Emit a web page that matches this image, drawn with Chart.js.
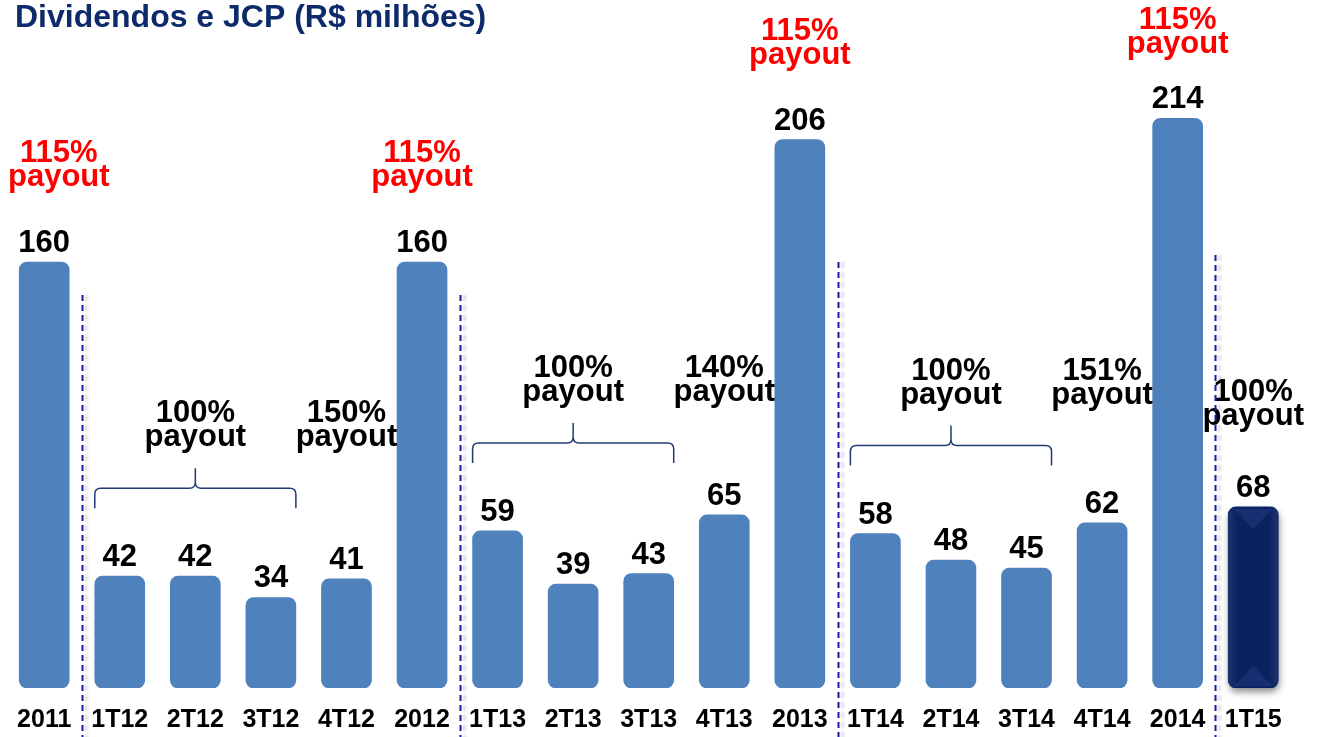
<!DOCTYPE html>
<html>
<head>
<meta charset="utf-8">
<script src="https://cdn.jsdelivr.net/npm/chart.js@4.4.1/dist/chart.umd.min.js"></script>
<style>
  html, body { margin: 0; padding: 0; background: #fff; overflow: hidden; }
  #wrap { position: relative; width: 1317px; height: 752px; }
</style>
</head>
<body>
<div id="wrap"><canvas id="graph"></canvas></div>
<script>
const categories = ['2011', '1T12', '2T12', '3T12', '4T12', '2012', '1T13', '2T13', '3T13', '4T13', '2013', '1T14', '2T14', '3T14', '4T14', '2014', '1T15'];
const dividends = [160, 42, 42, 34, 41, 160, 59, 39, 43, 65, 206, 58, 48, 45, 62, 214, 68];
const annualPayouts = [['2011', '115%'], ['2012', '115%'], ['2013', '115%'], ['2014', '115%']];
const groupPayouts = [['1T12', '3T12', '100%'], ['1T13', '3T13', '100%'], ['1T14', '3T14', '100%']];
const quarterPayouts = [['4T12', '150%'], ['4T13', '140%'], ['4T14', '151%'], ['1T15', '100%']];
const separatorsAfter = ['2011', '2012', '2013', '2014'];
const title = 'Dividendos e JCP (R$ milhões)';

const FONT = "'Liberation Sans', Arial, sans-serif";
const lastIdx = categories.length - 1;

const barColors = categories.map((c, i) => i === lastIdx ? '#0b2261' : '#4f81bd');

function drawBrace(ctx, x1, x2, bottom) {
  const mid = (x1 + x2) / 2, hy = bottom - 20, tip = bottom - 40, r = 6;
  ctx.beginPath();
  ctx.moveTo(x1, bottom);
  ctx.lineTo(x1, hy + r);
  ctx.quadraticCurveTo(x1, hy, x1 + r, hy);
  ctx.lineTo(mid - r, hy);
  ctx.quadraticCurveTo(mid, hy, mid, hy - r);
  ctx.lineTo(mid, tip);
  ctx.moveTo(mid, hy - r);
  ctx.quadraticCurveTo(mid, hy, mid + r, hy);
  ctx.lineTo(x2 - r, hy);
  ctx.quadraticCurveTo(x2, hy, x2, hy + r);
  ctx.lineTo(x2, bottom);
  ctx.stroke();
}

function payoutText(ctx, x, baseline, pct, color) {
  ctx.fillStyle = color;
  ctx.font = 'bold 31px ' + FONT;
  ctx.textBaseline = 'alphabetic';
  // keep the label inside the canvas
  const half = ctx.measureText('payout').width / 2;
  x = Math.max(x, half + 8);
  baseline = Math.max(baseline, 53);
  ctx.textAlign = 'center';
  ctx.fillText(pct, x, baseline - 24);
  ctx.fillText('payout', x, baseline);
}

const annotations = {
  id: 'annotations',
  beforeDatasetsDraw(chart) {
    // soft shadow under the last (highlighted) bar
    const ctx = chart.ctx;
    const bar = chart.getDatasetMeta(0).data[lastIdx];
    ctx.save();
    ctx.shadowColor = 'rgba(0,0,0,0.45)';
    ctx.shadowBlur = 7;
    ctx.shadowOffsetX = 1;
    ctx.shadowOffsetY = 4;
    ctx.fillStyle = '#0b2261';
    ctx.beginPath();
    ctx.roundRect(bar.x - bar.width / 2, bar.y, bar.width, bar.base - bar.y, 8);
    ctx.fill();
    ctx.restore();
  },
  afterDatasetsDraw(chart) {
    const ctx = chart.ctx;
    const xs = chart.scales.x;
    const bars = chart.getDatasetMeta(0).data;
    const idx = c => categories.indexOf(c);
    ctx.save();

    // subtle bevel on the last bar
    const lb = bars[lastIdx];
    const l = lb.x - lb.width / 2, r = lb.x + lb.width / 2;
    const g = ctx.createLinearGradient(l, 0, r, 0);
    g.addColorStop(0, 'rgba(255,255,255,0.08)');
    g.addColorStop(0.2, 'rgba(255,255,255,0)');
    g.addColorStop(0.8, 'rgba(255,255,255,0)');
    g.addColorStop(1, 'rgba(255,255,255,0.08)');
    ctx.fillStyle = g;
    ctx.beginPath();
    ctx.roundRect(l, lb.y, lb.width, lb.base - lb.y, 8);
    ctx.fill();
    ctx.fillStyle = 'rgba(90,120,190,0.16)';
    ctx.beginPath();
    ctx.moveTo(l + 6, lb.y + 2);
    ctx.lineTo(r - 6, lb.y + 2);
    ctx.lineTo(lb.x, lb.y + 22);
    ctx.closePath();
    ctx.moveTo(l + 6, lb.base - 2);
    ctx.lineTo(r - 6, lb.base - 2);
    ctx.lineTo(lb.x, lb.base - 22);
    ctx.closePath();
    ctx.fill();

    // value labels
    ctx.fillStyle = '#000';
    ctx.font = 'bold 31px ' + FONT;
    ctx.textAlign = 'center';
    ctx.textBaseline = 'alphabetic';
    bars.forEach((b, i) => ctx.fillText(String(dividends[i]), b.x, b.y - 10));

    // annual payouts (red)
    annualPayouts.forEach(([c, pct]) => {
      const b = bars[idx(c)];
      payoutText(ctx, b.x, b.y - 76, pct, '#ff0000');
    });

    // grouped quarterly payouts with braces
    const groupLevel = {};
    ctx.strokeStyle = '#1f3a70';
    ctx.lineWidth = 1.5;
    groupPayouts.forEach(([from, to, pct]) => {
      const i1 = idx(from), i2 = idx(to);
      const top = Math.min(...bars.slice(i1, i2 + 1).map(b => b.y));
      const bottom = top - 68;
      const x1 = bars[i1].x - bars[i1].width / 2;
      const x2 = bars[i2].x + bars[i2].width / 2;
      drawBrace(ctx, x1, x2, bottom);
      const baseline = bottom - 40 - 22;
      groupLevel[i2 + 1] = baseline;
      payoutText(ctx, (x1 + x2) / 2, baseline, pct, '#000');
    });

    // single quarter payouts
    quarterPayouts.forEach(([c, pct]) => {
      const i = idx(c);
      const b = bars[i];
      const baseline = groupLevel[i] !== undefined ? groupLevel[i] : b.y - 82;
      payoutText(ctx, b.x, baseline, pct, '#000');
    });

    // dashed separators
    const sepTops = [295, 295, 262, 255];
    ctx.strokeStyle = '#1a1aa8';
    ctx.lineWidth = 2;
    ctx.setLineDash([6, 4]);
    ctx.shadowColor = 'rgba(0,0,0,0.22)';
    ctx.shadowBlur = 3;
    ctx.shadowOffsetX = 4;
    separatorsAfter.forEach((c, k) => {
      const i = idx(c);
      const x = Math.round((xs.getPixelForValue(i) + xs.getPixelForValue(i + 1)) / 2) + 0.5;
      ctx.beginPath();
      ctx.moveTo(x, sepTops[k]);
      ctx.lineTo(x, chart.height);
      ctx.stroke();
    });
    ctx.restore();

    // title
    ctx.save();
    ctx.fillStyle = '#0d2a6b';
    ctx.font = 'bold 32px ' + FONT;
    ctx.textAlign = 'left';
    ctx.textBaseline = 'alphabetic';
    ctx.fillText(title, 15, 27);
    ctx.restore();
  }
};

const chart = new Chart(document.getElementById('graph').getContext('2d'), {
  type: 'bar',
  data: {
    labels: categories,
    datasets: [{
      data: dividends,
      backgroundColor: barColors,
      borderRadius: 8,
      borderSkipped: false,
      barThickness: 50
    }]
  },
  options: {
    responsive: true,
    maintainAspectRatio: false,
    animation: false,
    layout: { padding: { left: 3, right: 26, top: 49, bottom: 0 } },
    plugins: {
      legend: { display: false },
      tooltip: { enabled: false },
      title: { display: false }
    },
    scales: {
      x: {
        grid: { display: false, drawTicks: false },
        border: { display: false },
        ticks: {
          color: '#000',
          autoSkip: false,
          maxRotation: 0,
          padding: 17,
          font: { family: FONT, size: 25, weight: 'bold', lineHeight: 1.2 }
        }
      },
      y: { display: false, min: 0, max: 240 }
    }
  },
  plugins: [annotations]
});
</script>
</body>
</html>
